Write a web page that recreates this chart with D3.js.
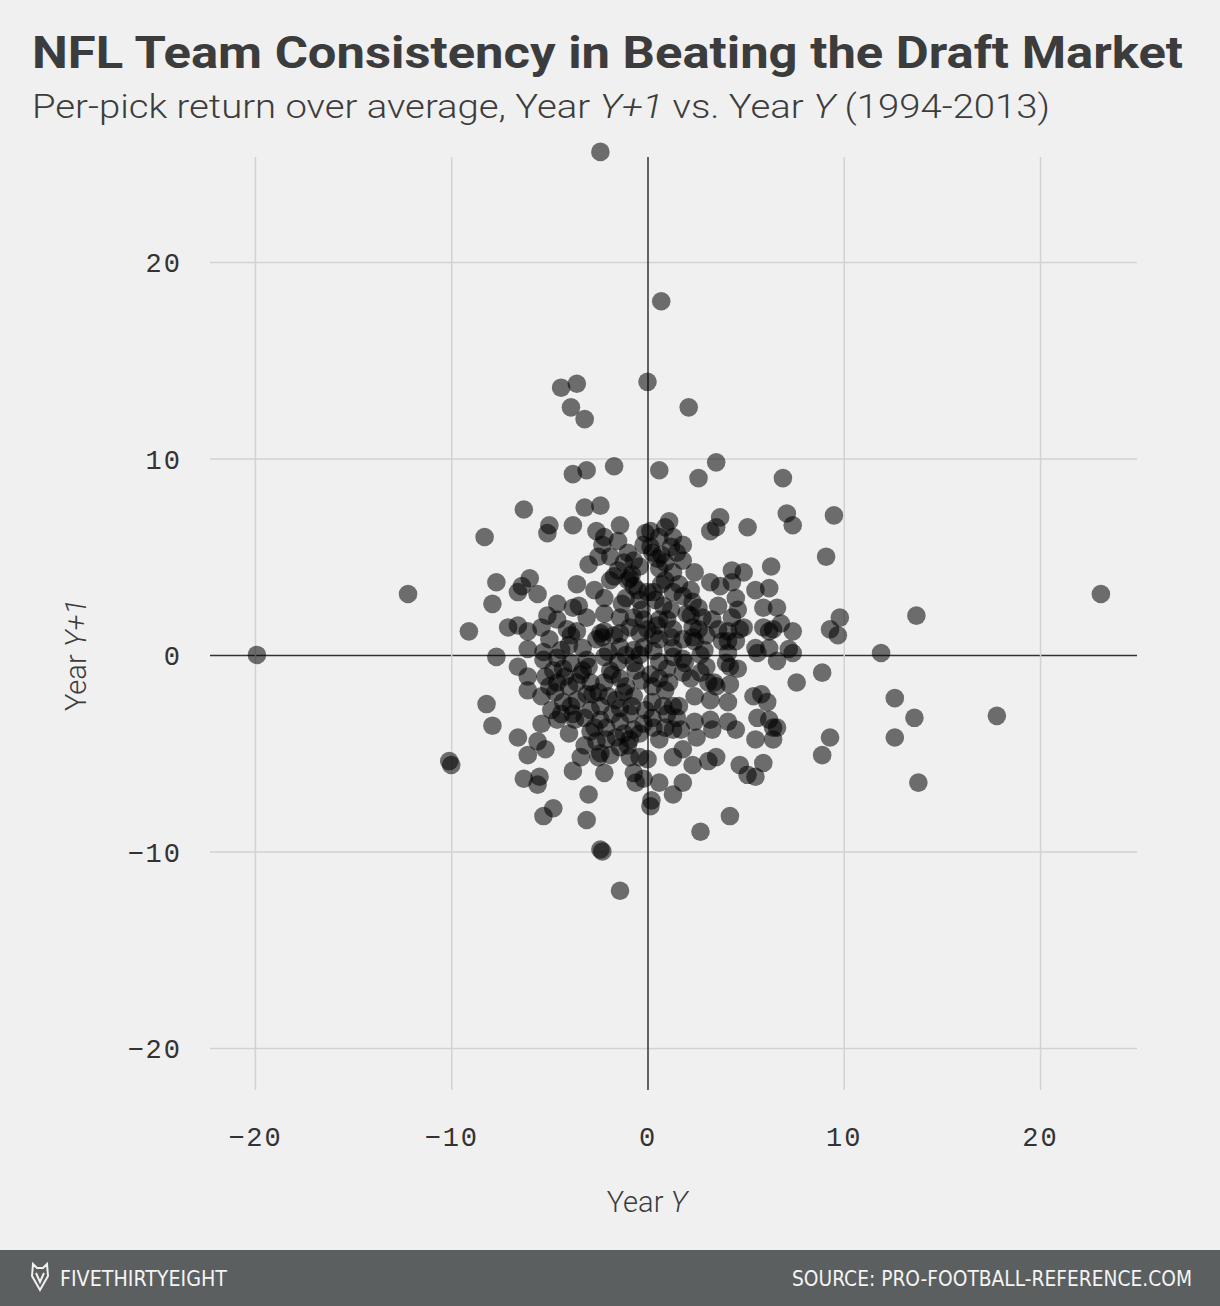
<!DOCTYPE html>
<html>
<head>
<meta charset="utf-8">
<script src="https://cdn.jsdelivr.net/npm/d3@7"></script>
<style>
  html, body { margin: 0; padding: 0; background: #f0f0f0; }
  svg { display: block; }
</style>
</head>
<body>
<svg id="chart" width="1220" height="1306"></svg>
<script>
// ---- Data: per-pick return over average, Year Y (x) vs Year Y+1 (y) ----
const yearY = [
  -2.4, 0.7, 0.0, -4.4, -3.6, -3.9, -3.2, 2.1, -3.1, -3.8, -1.7, 0.6, 3.5, 2.6, 6.9, 9.5, 7.1, 7.4, 5.1, 3.7,
  3.5, 3.2, 9.1, -6.3, -5.0, -5.1, -3.8, -8.3, -12.2, 23.1, -19.9, -9.1, -7.9, -7.7, -7.7, 13.7, 9.8, 9.7, 9.3, 11.9,
  12.6, 13.6, 17.8, 12.6, 13.8, 8.9, 9.3, 8.9, 7.6, -8.2, -7.9, -10.1, -10.0, -6.6, -6.1, -6.3, -5.5, -5.6, -5.3, -4.8,
  -3.1, -3.0, -2.4, -2.3, -1.4, 2.7, 4.2, 0.15, 0.2, 0.6, 1.3, 1.8, 4.7, 5.1, 5.5, 5.9, -4.0, -2.9, -3.4, -3.8,
  -2.2, -2.5, -1.9, -0.6, -0.2, -5.2, -5.6, 2.3, 3.1, 3.5, 1.3, 1.8, 2.5, 3.2, 4.1, 4.5, 5.6, 6.2, 6.4, 6.6,
  5.5, 6.4, 5.4, 5.8, 6.1, 4.1, 3.2, 2.4, 3.4, 3.1, 2.7, 1.8, 4.6, 4.2, 5.6, 6.6, 7.2, 7.4, 0.3, 1.3,
  1.7, 1.0, 1.3, 0.6, 0.0, -2.4, -3.2, -2.6, -2.2, -1.4, -1.5, -2.3, -2.5, -3.0, -1.9, -1.7, -1.2, -0.7, -0.1, 0.15,
  -0.4, -1.0, -0.7, 0.0, -1.1, -6.4, -6.0, -6.6, -5.6, -3.6, -2.7, -2.2, -3.5, -3.8, -2.2, -1.4, -0.9, -7.1, -6.6, -6.1,
  -5.1, -4.6, -4.1, -3.6, -2.2, -1.7, -0.4, 0.3, -1.0, -0.2, -0.5, -0.7, -0.2, -3.9, -1.4, -6.1, -5.3, -4.4, -3.3, -2.0,
  -1.4, -0.7, -0.2, -5.4, 1.1, 1.3, 0.15, 1.8, 1.2, 1.8, 0.9, 0.6, 1.3, 2.4, 3.2, 3.7, 4.3, 4.9, 4.3, 6.3,
  6.2, 5.5, 4.5, 4.6, 5.9, 6.6, 1.8, 1.3, 0.8, 2.3, 2.8, 3.3, 3.6, 4.7, 5.9, 6.8, 7.4, 6.2, 1.0, 1.3,
  2.3, 3.0, 4.1, 0.0, 0.9, 0.25, 4.3, 2.6, 0.3, 1.2, 2.3, 4.1, 4.9, 6.4, 0.6, 1.2, 1.8, 2.4, 3.8, 4.5,
  1.3, 4.1, 5.5, 6.2, -5.3, -4.6, -3.9, -3.1, -2.2, -1.5, -0.7, -6.1, -5.2, -4.2, -3.6, -2.9, -2.2, -1.4, -0.6, -6.1,
  -5.4, -4.7, -4.3, -3.6, -2.5, -2.0, -1.2, -0.7, -4.4, -3.8, -2.9, -2.4, -1.4, -0.9, -2.7, -2.1, -1.4, -2.1, -1.6, -1.2,
  -0.7, -0.4, -2.4, -1.4, -0.9, -0.4, -0.7, 0.6, 1.3, 1.9, 3.0, 4.0, 0.25, 1.1, 3.5, 0.25, 0.8, 1.6, 0.25, 0.9,
  2.4, 3.3, -6.6, -4.9, -5.4, -4.6, -0.9,
  -4.6, -3.3, -1.9, -1.1, -2.6, 0.15, 0.6, 0.4, 0.7, -0.4, 2.2, 2.7, 0.9, -0.1, -1.6, -3.1, -4.3, -5.0, -1.9, -0.8,
  0.7, 2.2, 3.6, 2.9, 4.2, -3.7, -2.4, -3.2,
  -3.4, -2.8, -3.0, -2.4, -2.3, -4.0, -4.8, -3.9, -3.2, -1.8, -1.1, -0.8, -0.3, -0.4, 0.3, 0.5, 0.9, 0.5, 1.5, 0.6,
  1.6, -0.3, -1.3, -0.9, -1.5, 2.0, 2.6, 1.8, 1.0, 2.2, 0.6, 1.5, -0.2, -1.0, -1.8, -2.6, -4.0, -5.0, -4.6, -3.1
];
const yearY1 = [
  25.6, 18.0, 13.9, 13.6, 13.8, 12.6, 12.0, 12.6, 9.4, 9.2, 9.6, 9.4, 9.8, 9.0, 9.0, 7.1, 7.2, 6.6, 6.5, 7.0,
  6.5, 6.3, 5.0, 7.4, 6.6, 6.2, 6.6, 6.0, 3.1, 3.1, 0.0, 1.2, 2.6, 3.7, -0.1, 2.0, 1.9, 1.0, 1.3, 0.1,
  -2.2, -3.2, -3.1, -4.2, -6.5, -0.9, -4.2, -5.1, -1.4, -2.5, -3.6, -5.4, -5.6, -4.2, -5.1, -6.3, -6.2, -6.6, -8.2, -7.8,
  -8.4, -7.1, -9.9, -10.0, -12.0, -9.0, -8.2, -7.7, -7.4, -6.5, -7.1, -6.5, -5.6, -6.1, -6.2, -5.5, -4.0, -3.9, -5.2, -5.9,
  -6.0, -5.2, -5.1, -6.5, -6.3, -4.8, -4.4, -5.6, -5.4, -5.2, -5.2, -4.8, -4.2, -3.3, -3.4, -3.8, -3.2, -3.3, -3.7, -3.7,
  -4.3, -4.3, -2.1, -2.0, -2.4, -2.4, -2.3, -2.1, -1.4, -1.4, -0.9, -0.9, -0.7, -0.6, 0.1, -0.3, 0.3, 0.1, -3.7, -3.8,
  -3.8, -3.0, -2.6, -4.3, -5.3, 7.6, 7.5, 6.3, 6.0, 6.6, 5.8, 5.6, 5.0, 4.6, 5.0, 4.0, 4.7, 4.8, 6.2, 5.5,
  4.5, 3.8, 3.5, 3.2, 2.9, 3.5, 3.9, 3.2, 3.1, 3.6, 3.3, 2.9, 2.5, 2.4, 2.1, 1.9, 1.4, 1.4, 1.5, 1.2,
  2.0, 1.8, 1.3, 1.2, 1.2, 1.0, 1.1, 1.0, 5.2, 5.6, 3.3, 1.9, 1.8, 1.0, 1.1, 0.3, 0.15, 0.25, 0.35, 0.15,
  0.4, 0.25, 0.4, 1.4, 6.8, 6.0, 6.3, 5.6, 5.5, 4.8, 4.7, 4.4, 4.2, 4.2, 3.7, 3.5, 4.3, 4.2, 3.7, 4.5,
  3.4, 3.3, 2.9, 2.3, 2.4, 2.4, 3.0, 3.2, 2.5, 2.7, 1.9, 1.8, 1.3, 1.3, 1.4, 1.6, 1.2, 1.2, 1.8, 1.3,
  0.9, 1.0, 0.7, 1.3, 6.5, 5.2, 1.9, 2.4, 3.2, 2.3, 1.4, 1.2, 1.4, 1.3, 0.8, 0.9, 0.8, 0.7, 0.7, 0.7,
  0.35, 0.1, 0.35, 0.35, -0.25, -0.15, -0.4, -0.25, -0.1, -0.35, -0.4, -1.1, -1.1, -1.1, -1.4, -1.4, -1.4, -1.2, -0.8, -1.8,
  -2.1, -1.9, -2.4, -2.3, -1.9, -2.1, -1.9, -2.1, -3.0, -3.0, -2.8, -2.6, -2.7, -3.0, -3.7, -3.7, -3.4, -4.3, -4.2, -4.0,
  -3.8, -4.0, -5.0, -4.7, -5.2, -5.2, -6.0, -0.35, -0.1, -0.4, -0.6, -0.4, -1.6, -1.4, -1.6, -2.4, -2.6, -2.6, -3.2, -3.7,
  -3.4, -3.8, -0.6, -2.8, -3.5, -3.3, -4.3,
  -1.4, -0.8, -0.8, 0.0, 0.8, -1.0, 1.8, 2.8, 3.6, 2.8, 3.3, 0.0, -1.8, -2.8, -2.3, -2.0, -0.7, 0.8, 3.8, 4.1,
  5.1, 2.0, 2.5, 0.25, -1.5, -3.3, -3.3, -4.6,
  -1.0, -2.0, -0.6, 1.1, 0.9, -1.6, -0.8, -2.6, -3.2, -1.0, -1.6, -2.6, -1.3, 0.0, 0.2, 1.5, 3.8, 4.9, 5.2, 6.0,
  3.6, 2.3, 2.6, 3.9, 4.3, 2.1, 1.3, -0.2, -0.7, -1.2, -1.2, -3.2, -3.5, -4.6, -3.0, -4.4, 0.5, -1.6, 2.6, 1.9
];
const tickValues = [-20, -10, 0, 10, 20];
const titleText = "NFL Team Consistency in Beating the Draft Market";
const sourceText = "SOURCE: PRO-FOOTBALL-REFERENCE.COM";
const brandText = "FIVETHIRTYEIGHT";

const points = yearY.map((x, i) => ({x: x, y: yearY1[i]}));

const W = 1220, H = 1306;
const plot = {left: 210, right: 1137, top: 157, bottom: 1090};

const svg = d3.select("#chart");
svg.append("rect").attr("width", W).attr("height", H).attr("fill", "#f0f0f0");

const x = d3.scaleLinear().domain([-22.29, 24.94]).range([plot.left, plot.right]);
const y = d3.scaleLinear().domain([-22.14, 25.34]).range([plot.bottom, plot.top]);

// Title & subtitle
svg.append("text")
  .attr("x", 32).attr("y", 68)
  .attr("font-family", "Roboto, 'Noto Sans', sans-serif")
  .attr("font-weight", 700).attr("font-size", 45)
  .attr("fill", "#3c3c3c")
  .attr("textLength", 1151).attr("lengthAdjust", "spacingAndGlyphs")
  .text(titleText);

const sub = svg.append("text")
  .attr("x", 32).attr("y", 118)
  .attr("font-family", "Roboto, 'Noto Sans', sans-serif")
  .attr("font-weight", 300).attr("font-size", 33)
  .attr("fill", "#3c3c3c")
  .attr("textLength", 1018).attr("lengthAdjust", "spacingAndGlyphs");
sub.append("tspan").text("Per-pick return over average, Year ");
sub.append("tspan").attr("font-style", "italic").text("Y+1");
sub.append("tspan").text(" vs. Year ");
sub.append("tspan").attr("font-style", "italic").text("Y");
sub.append("tspan").text(" (1994-2013)");

// Gridlines
const gridY = svg.append("g")
  .attr("transform", `translate(${plot.left},0)`)
  .call(d3.axisLeft(y).tickValues(tickValues).tickSize(-(plot.right - plot.left)).tickFormat(""));
gridY.select(".domain").remove();
gridY.selectAll("line").attr("stroke", d => d === 0 ? "#333" : "#d2d2d2").attr("stroke-width", 1.5);

const gridX = svg.append("g")
  .attr("transform", `translate(0,${plot.bottom})`)
  .call(d3.axisBottom(x).tickValues(tickValues).tickSize(-(plot.bottom - plot.top)).tickFormat(""));
gridX.select(".domain").remove();
gridX.selectAll("line").attr("stroke", d => d === 0 ? "#333" : "#d2d2d2").attr("stroke-width", 1.5);

// Tick labels
const labelFont = "'Liberation Mono', 'DejaVu Sans Mono', monospace";
const yLab = svg.append("g")
  .attr("transform", `translate(${plot.left},0)`)
  .call(d3.axisLeft(y).tickValues(tickValues).tickSize(0).tickPadding(28).tickFormat(d3.format("d")));
yLab.select(".domain").remove();
yLab.selectAll("text")
  .attr("font-family", labelFont).attr("font-size", 27).attr("fill", "#333")
  .attr("letter-spacing", 2).attr("dy", "0.36em");

const xLab = svg.append("g")
  .attr("transform", `translate(0,${plot.bottom})`)
  .call(d3.axisBottom(x).tickValues(tickValues).tickSize(0).tickPadding(46).tickFormat(d3.format("d")));
xLab.select(".domain").remove();
xLab.selectAll("text")
  .attr("font-family", labelFont).attr("font-size", 27).attr("fill", "#333")
  .attr("letter-spacing", 2).attr("dy", "0.36em");

// Axis titles
const xt = svg.append("text")
  .attr("x", 647).attr("y", 1212).attr("text-anchor", "middle")
  .attr("font-family", "Roboto, 'Noto Sans', sans-serif").attr("font-weight", 300)
  .attr("font-size", 29).attr("fill", "#3c3c3c");
xt.append("tspan").text("Year ");
xt.append("tspan").attr("font-style", "italic").text("Y");

const yt = svg.append("text")
  .attr("transform", "translate(86,655) rotate(-90)").attr("text-anchor", "middle")
  .attr("font-family", "Roboto, 'Noto Sans', sans-serif").attr("font-weight", 300)
  .attr("font-size", 29).attr("fill", "#3c3c3c");
yt.append("tspan").text("Year ");
yt.append("tspan").attr("font-style", "italic").text("Y+1");

// Points
svg.append("g").selectAll("circle").data(points).join("circle")
  .attr("cx", d => x(d.x)).attr("cy", d => y(d.y)).attr("r", 9.3)
  .attr("fill", "#000").attr("fill-opacity", 0.55);

// Footer
svg.append("rect").attr("x", 0).attr("y", 1250).attr("width", W).attr("height", 56).attr("fill", "#5b5f60");
svg.append("path")
  .attr("d", "M33,1264 L37,1268 L43,1268 L47,1264 L48,1276 L40,1290 L32,1276 Z M36,1273 L40,1282 L44,1273")
  .attr("fill", "none").attr("stroke", "#f0f0f0").attr("stroke-width", 2);
svg.append("text")
  .attr("x", 60).attr("y", 1286)
  .attr("font-family", "'DejaVu Sans', sans-serif").attr("font-stretch", "condensed")
  .attr("font-size", 22).attr("fill", "#f4f4f4")
  .attr("textLength", 167).attr("lengthAdjust", "spacingAndGlyphs")
  .text(brandText);
svg.append("text")
  .attr("x", 1192).attr("y", 1286).attr("text-anchor", "end")
  .attr("font-family", "'DejaVu Sans', sans-serif").attr("font-stretch", "condensed")
  .attr("font-size", 22).attr("fill", "#f4f4f4")
  .attr("textLength", 400).attr("lengthAdjust", "spacingAndGlyphs")
  .text(sourceText);
</script>
</body>
</html>
